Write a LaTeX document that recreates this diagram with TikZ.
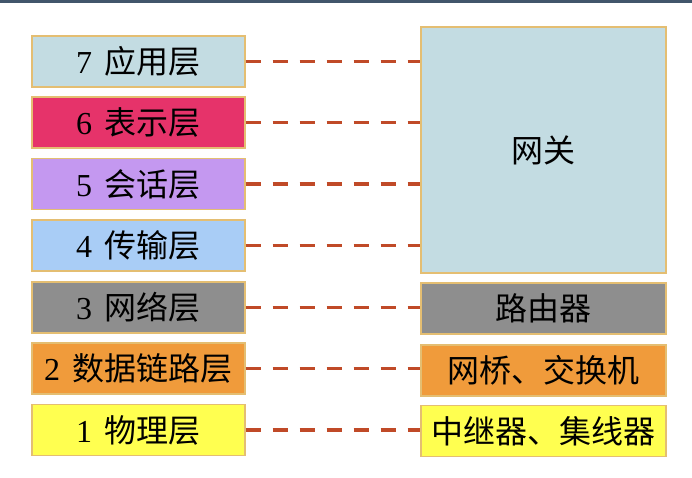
\documentclass[tikz,border=0pt]{standalone}
\usepackage{fontspec}
\setmainfont{Liberation Serif}
\newfontfamily\cjk{Noto Sans CJK SC}
\definecolor{topbar}{HTML}{41566B}
\definecolor{boxborder}{HTML}{E4BE72}
\definecolor{cseven}{HTML}{C3DCE2}
\definecolor{csix}{HTML}{E6336A}
\definecolor{cfive}{HTML}{C498F0}
\definecolor{cfour}{HTML}{A9CDF6}
\definecolor{cthree}{HTML}{8E8E8E}
\definecolor{ctwo}{HTML}{F09B3B}
\definecolor{cone}{HTML}{FFFF50}
\definecolor{dashcol}{HTML}{C04A28}
\newcommand{\lay}[2]{#1\hspace{0.4em}{\cjk #2}}
\begin{document}
\begin{tikzpicture}[x=1pt,y=-1pt,
  layerbox/.style={draw=boxborder, line width=1.2pt, minimum width=213pt, minimum height=51pt, inner sep=0pt, font=\fontsize{32}{34}\selectfont},
  devbox/.style={draw=boxborder, line width=1.2pt, minimum width=245pt, minimum height=51pt, inner sep=0pt, font=\fontsize{32}{34}\selectfont\cjk},
  conn/.style={draw=dashcol, line width=3.5pt, dash pattern=on 15pt off 12pt}]
\useasboundingbox (0,0) rectangle (692,477);
\fill[white] (0,0) rectangle (692,477);
\fill[topbar] (0,0) rectangle (692,2.5);
\node[layerbox, fill=cseven] (l7) at (138.5,61.5) {\lay{7}{应用层}};
\node[layerbox, fill=csix]   (l6) at (138.5,122.5) {\lay{6}{表示层}};
\node[layerbox, fill=cfive]  (l5) at (138.5,184) {\lay{5}{会话层}};
\node[layerbox, fill=cfour]  (l4) at (138.5,245.5) {\lay{4}{传输层}};
\node[layerbox, fill=cthree] (l3) at (138.5,307.5) {\lay{3}{网络层}};
\node[layerbox, fill=ctwo]   (l2) at (138.5,368.5) {\lay{2}{数据链路层}};
\node[layerbox, fill=cone]   (l1) at (138.5,430) {\lay{1}{物理层}};
\node[devbox, fill=cseven, minimum height=246pt] (gw) at (543.5,150) {网关};
\node[devbox, fill=cthree] (rt) at (543.5,308.5) {路由器};
\node[devbox, fill=ctwo]   (br) at (543.5,370.5) {网桥、交换机};
\node[devbox, fill=cone]   (rp) at (543.5,431) {中继器、集线器};
\draw[conn] (l7.east) -- (l7.east -| gw.west);
\draw[conn] (l6.east) -- (l6.east -| gw.west);
\draw[conn] (l5.east) -- (l5.east -| gw.west);
\draw[conn] (l4.east) -- (l4.east -| gw.west);
\draw[conn] (l3.east) -- (l3.east -| rt.west);
\draw[conn] (l2.east) -- (l2.east -| br.west);
\draw[conn] (l1.east) -- (l1.east -| rp.west);
\end{tikzpicture}
\end{document}
